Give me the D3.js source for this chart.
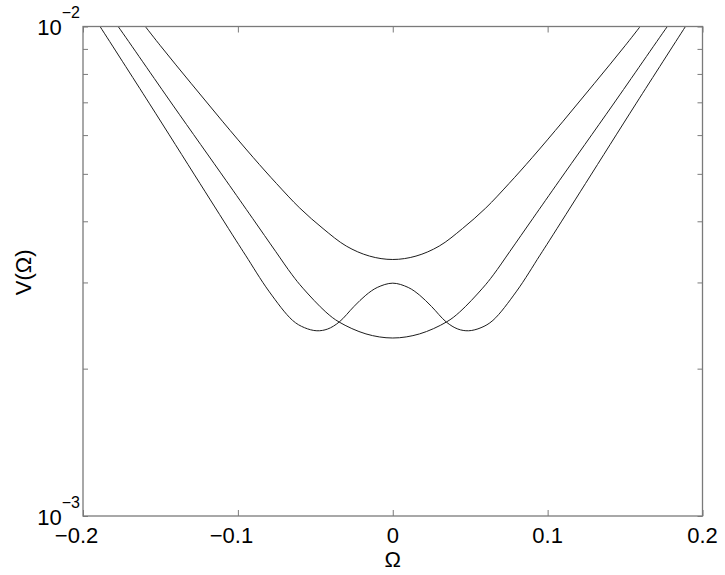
<!DOCTYPE html>
<html><head><meta charset="utf-8">
<script src="https://cdn.jsdelivr.net/npm/d3@7"></script>
<style>body{margin:0;background:#fff}svg{display:block}</style>
</head><body>
<svg id="c" width="725" height="575"></svg>
<script>
// Curve A: upper single-well curve
const omegaA = [-0.17,-0.15,-0.13,-0.11,-0.09,-0.075,-0.06,-0.045,-0.03,-0.015,0,0.015,0.03,0.045,0.06,0.075,0.09,0.11,0.13,0.15,0.17];
const valuesA = [0.01101,0.009133,0.007639,0.006405,0.005396,0.004775,0.004256,0.003865,0.00356,0.003396,0.003342,0.003396,0.00356,0.003865,0.004256,0.004775,0.005396,0.006405,0.007639,0.009133,0.01101];
// Curve B: double-well curve
const omegaB = [-0.195,-0.189,-0.157,-0.1245,-0.1013,-0.0948,-0.08,-0.0647,-0.057,-0.049,-0.042,-0.0346,-0.025,-0.0174,-0.01,0,0.01,0.0174,0.025,0.0346,0.042,0.049,0.057,0.0647,0.08,0.0948,0.1013,0.1245,0.157,0.189,0.195];
const valuesB = [0.0107,0.0100,0.00695,0.00478,0.00366,0.00340,0.00288,0.00251,0.002425,0.00239,0.00241,0.00249,0.00268,0.002825,0.00293,0.00299,0.00293,0.002825,0.00268,0.00249,0.00241,0.00239,0.002425,0.00251,0.00288,0.00340,0.00366,0.00478,0.00695,0.0100,0.0107];
// Curve C: lower single-well curve
const omegaC = [-0.183,-0.1772,-0.142,-0.1077,-0.0905,-0.0755,-0.065,-0.058,-0.0432,-0.0346,-0.0173,0,0.0173,0.0346,0.0432,0.058,0.065,0.0755,0.0905,0.1077,0.142,0.1772,0.183];
const valuesC = [0.01059,0.00999,0.00691,0.00485,0.004055,0.003467,0.00311,0.00292,0.00261,0.00249,0.002355,0.00231,0.002355,0.00249,0.00261,0.00292,0.00311,0.003467,0.004055,0.00485,0.00691,0.00999,0.01059];

const xTicks = [-0.2,-0.1,0,0.1,0.2];
const xTickLabels = ["−0.2","−0.1","0","0.1","0.2"];
const yMinorTicks = [0.001,0.002,0.003,0.004,0.005,0.006,0.007,0.008,0.009,0.01];
const yLabelTicks = [0.001,0.01];
const yLabelExponents = ["−3","−2"];
const xTitle = "Ω";
const yTitle = "V(Ω)";

const svg = d3.select("#c");
svg.append("rect").attr("width",725).attr("height",575).attr("fill","#fff");
const L = 83, R = 702.5, T = 26.5, B = 516;
const x = d3.scaleLinear().domain([-0.2,0.2]).range([L,R]);
const y = d3.scaleLog().domain([0.001,0.01]).range([B,T]);
const font = "'Liberation Sans', Arial, Helvetica, sans-serif";
const axisColor = "#7a7a7a";

svg.append("defs").append("clipPath").attr("id","clip")
  .append("rect").attr("x",L).attr("y",T).attr("width",R-L).attr("height",B-T);

// curves
const line = d3.line().x(d=>x(d[0])).y(d=>y(d[1])).curve(d3.curveCatmullRom.alpha(0.5));
const series = [[omegaA,valuesA],[omegaB,valuesB],[omegaC,valuesC]];
const g = svg.append("g").attr("clip-path","url(#clip)");
series.forEach(([om,vals])=>{
  g.append("path").datum(om.map((o,i)=>[o,vals[i]]))
    .attr("d",line).attr("fill","none").attr("stroke","#1c1c1c").attr("stroke-width",1);
});

// axes (ticks inward)
function styleAxis(sel){
  sel.select(".domain").remove();
  sel.selectAll(".tick line").attr("stroke",axisColor).attr("stroke-width",1);
  sel.selectAll("text").remove();
}
svg.append("g").attr("transform",`translate(0,${B})`)
  .call(d3.axisBottom(x).tickValues(xTicks).tickSizeInner(-6).tickSizeOuter(0)).call(styleAxis);
svg.append("g").attr("transform",`translate(0,${T})`)
  .call(d3.axisTop(x).tickValues(xTicks).tickSizeInner(-6).tickSizeOuter(0)).call(styleAxis);
svg.append("g").attr("transform",`translate(${L},0)`)
  .call(d3.axisLeft(y).tickValues(yMinorTicks).tickSizeInner(-5).tickSizeOuter(0)).call(styleAxis);
svg.append("g").attr("transform",`translate(${R},0)`)
  .call(d3.axisRight(y).tickValues(yMinorTicks).tickSizeInner(-5).tickSizeOuter(0)).call(styleAxis);

// box
svg.append("rect").attr("x",L).attr("y",T).attr("width",R-L).attr("height",B-T)
  .attr("fill","none").attr("stroke",axisColor).attr("stroke-width",1.3);

// x tick labels: numeric part centered on tick, minus hangs left
const tmp = svg.append("text").attr("font-family",font).attr("font-size",22).text("0.1");
const halfNum = tmp.node().getComputedTextLength()/2;
tmp.remove();
xTicks.forEach((v,i)=>{
  const lab = xTickLabels[i];
  const neg = lab.startsWith("−");
  svg.append("text").attr("font-family",font).attr("font-size",22).attr("fill","#000")
    .attr("x", neg ? x(v)+halfNum : x(v)).attr("y",B+27)
    .attr("text-anchor", neg ? "end" : "middle").text(lab);
});

// y tick labels 10^-3, 10^-2
yLabelTicks.forEach((v,i)=>{
  const t = svg.append("text").attr("font-family",font).attr("font-size",22).attr("fill","#000")
    .attr("x",80).attr("y",y(v)+8.5).attr("text-anchor","end");
  t.append("tspan").text("10");
  t.append("tspan").attr("font-size",16).attr("dy",-17).text(yLabelExponents[i]);
});

// titles
svg.append("text").attr("font-family",font).attr("font-size",22).attr("fill","#000")
  .attr("x",x(0)).attr("y",567).attr("text-anchor","middle").text(xTitle);
svg.append("text").attr("font-family",font).attr("font-size",22).attr("fill","#000")
  .attr("transform",`translate(31,${(B+T)/2+1}) rotate(-90)`).attr("text-anchor","middle").text(yTitle);
</script>
</body></html>
